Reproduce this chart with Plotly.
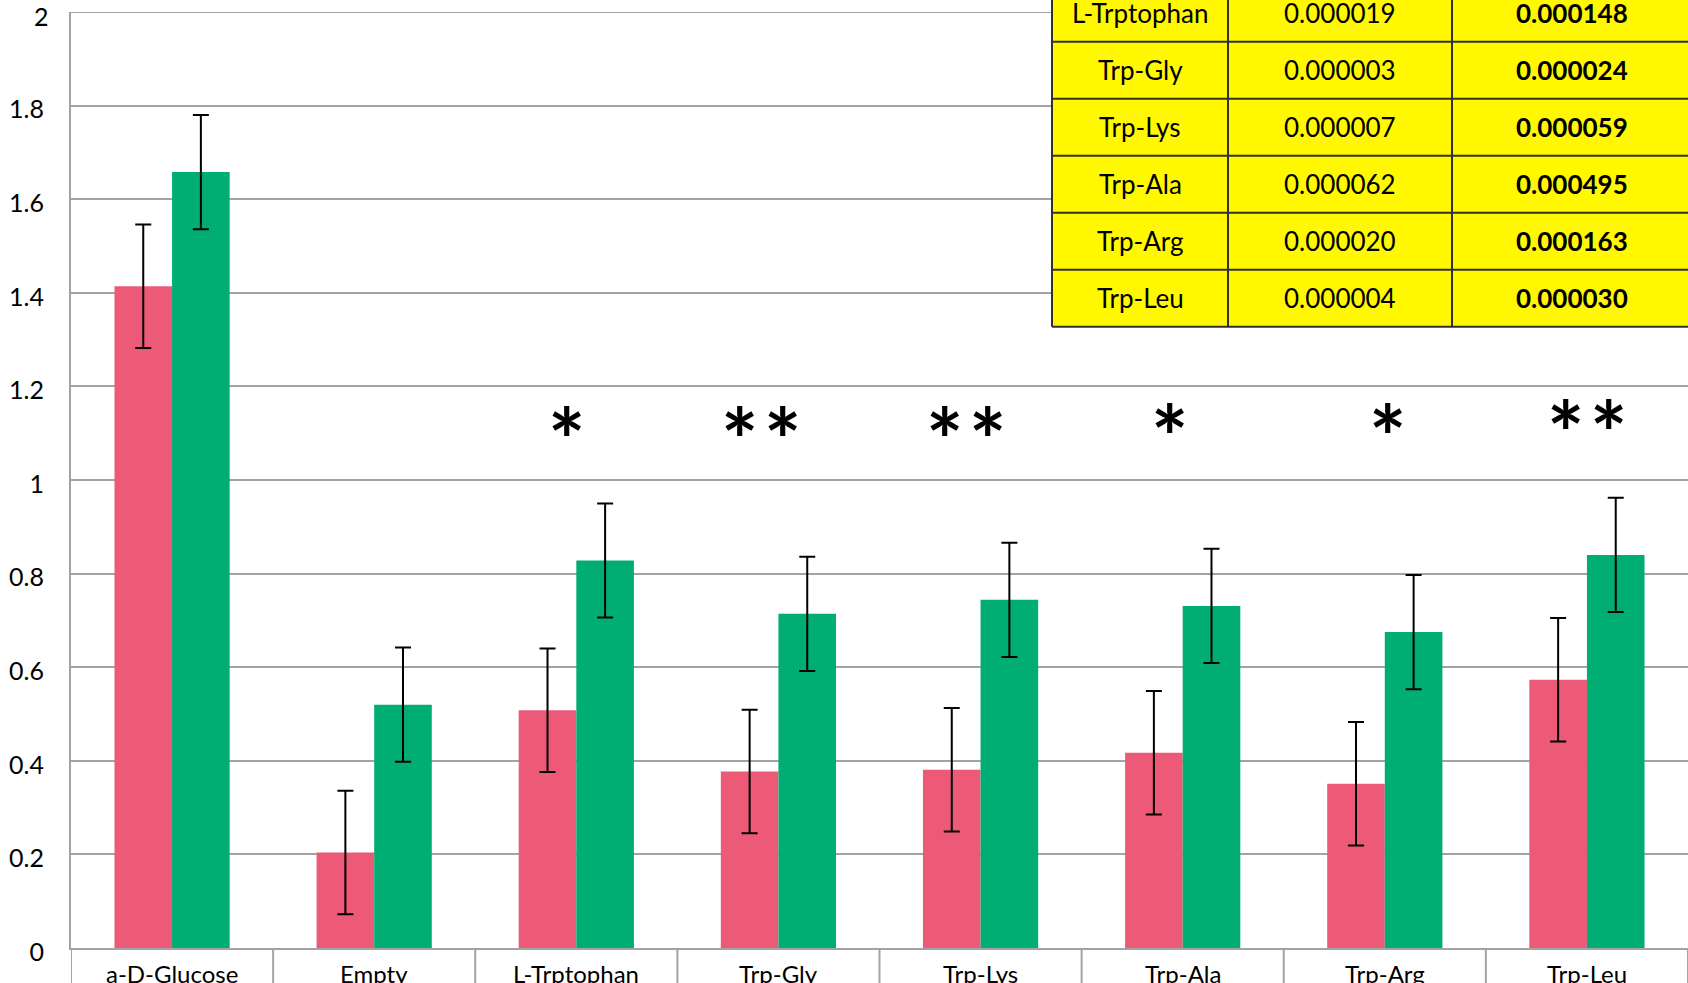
import plotly.graph_objects as go

# ---- data -------------------------------------------------------------
categories = ["a-D-Glucose", "Empty", "L-Trptophan", "Trp-Gly",
              "Trp-Lys", "Trp-Ala", "Trp-Arg", "Trp-Leu"]
series_a = [1.414, 0.204, 0.508, 0.377, 0.381, 0.417, 0.351, 0.573]
series_a_err = [0.132, 0.132, 0.132, 0.132, 0.132, 0.132, 0.132, 0.132]
series_b = [1.658, 0.520, 0.828, 0.714, 0.744, 0.731, 0.675, 0.840]
series_b_err = [0.122, 0.122, 0.122, 0.122, 0.122, 0.122, 0.122, 0.122]
significance = ["", "", "*", "**", "**", "*", "*", "**"]

y_tick_values = [0, 0.2, 0.4, 0.6, 0.8, 1.0, 1.2, 1.4, 1.6, 1.8, 2.0]
y_tick_labels = ["0", "0.2", "0.4", "0.6", "0.8", "1", "1.2", "1.4", "1.6", "1.8", "2"]

table_names = ["L-Trptophan", "Trp-Gly", "Trp-Lys", "Trp-Ala", "Trp-Arg", "Trp-Leu"]
table_p = ["0.000019", "0.000003", "0.000007", "0.000062", "0.000020", "0.000004"]
table_p_adj = ["0.000148", "0.000024", "0.000059", "0.000495", "0.000163", "0.000030"]

# ---- style / layout ---------------------------------------------------
W, H = 1688, 983
M_L, M_R, M_T, M_B = 71, 0, 12, 35
PINK = "#EC5A78"
GREEN = "#00AE73"
GRID = "#A3A3A3"
YELLOW = "#FFF800"
FONT = "Lato"
star_dx = [0, 0, -0.05, -0.085, -0.07, -0.065, 0.015, 0.0]
star_y = [0, 0, 1.088, 1.088, 1.088, 1.093, 1.093, 1.103]

plot_w = W - M_L - M_R
plot_h = H - M_T - M_B


def px_x(px):
    return (px - M_L) / plot_w


def px_y(py):
    return (H - M_B - py) / plot_h


x_idx = list(range(len(categories)))

fig = go.Figure()
fig.add_trace(go.Bar(
    x=x_idx, y=series_a, marker=dict(color=PINK, line=dict(width=0)),
    error_y=dict(type="data", array=series_a_err, visible=True,
                 color="black", thickness=2, width=8),
))
fig.add_trace(go.Bar(
    x=x_idx, y=series_b, marker=dict(color=GREEN, line=dict(width=0)),
    error_y=dict(type="data", array=series_b_err, visible=True,
                 color="black", thickness=2, width=8),
))

shapes = []
annotations = []

# top gridline at y = 2
shapes.append(dict(type="line", xref="paper", yref="y", x0=0, x1=1, y0=2, y1=2,
                   line=dict(color=GRID, width=2), layer="below"))

# category dividers below the axis
for i in range(len(categories) + 1):
    shapes.append(dict(type="line", xref="x", yref="paper",
                       x0=i - 0.5, x1=i - 0.5, y0=0, y1=-0.1,
                       line=dict(color=GRID, width=2), layer="below"))

# category labels
for i, name in enumerate(categories):
    annotations.append(dict(x=i, y=0, xref="x", yref="paper", text=name,
                            showarrow=False, yanchor="top", yshift=-9,
                            font=dict(family=FONT, size=24, color="black")))

# y = 2 tick label (end of range)
annotations.append(dict(x=0, y=2, xref="paper", yref="y", text=y_tick_labels[-1],
                        showarrow=False, xanchor="right", yanchor="middle",
                        xshift=-20, yshift=-4,
                        font=dict(family=FONT, size=25, color="black")))

# significance marks
for i, s in enumerate(significance):
    if s:
        annotations.append(dict(x=i + star_dx[i], y=star_y[i], xref="x", yref="y",
                                text="<b>" + "\u200a".join(s) + "</b>", showarrow=False,
                                font=dict(family=FONT, size=88, color="black")))

# p-value table (top right)
row_h = 57
row_bottoms = [41.7 + row_h * k for k in range(len(table_names))]
col_edges = [1052, 1228, 1452, 1692]
tbl_top = row_bottoms[0] - row_h
tbl_bot = row_bottoms[-1]
shapes.append(dict(type="rect", xref="paper", yref="paper",
                   x0=px_x(col_edges[0]), x1=px_x(col_edges[-1]),
                   y0=px_y(tbl_bot), y1=px_y(tbl_top),
                   fillcolor=YELLOW, line=dict(width=0), layer="above"))
for yb in [tbl_top] + row_bottoms:
    shapes.append(dict(type="line", xref="paper", yref="paper",
                       x0=px_x(col_edges[0]), x1=px_x(col_edges[-1]),
                       y0=px_y(yb), y1=px_y(yb),
                       line=dict(color="#303030", width=2), layer="above"))
for xe in col_edges:
    shapes.append(dict(type="line", xref="paper", yref="paper",
                       x0=px_x(xe), x1=px_x(xe),
                       y0=px_y(tbl_bot), y1=px_y(tbl_top),
                       line=dict(color="#303030", width=2), layer="above"))

for k in range(len(table_names)):
    yc = px_y(row_bottoms[k] - row_h / 2)
    cols = [table_names[k], table_p[k], "<b>" + table_p_adj[k] + "</b>"]
    for c, txt in enumerate(cols):
        xc = px_x((col_edges[c] + col_edges[c + 1]) / 2)
        annotations.append(dict(x=xc, y=yc, xref="paper", yref="paper",
                                text=txt, showarrow=False,
                                xanchor="center", yanchor="middle",
                                font=dict(family=FONT, size=26, color="black")))

fig.update_layout(
    width=W, height=H,
    margin=dict(l=M_L, r=M_R, t=M_T, b=M_B, pad=0),
    paper_bgcolor="white", plot_bgcolor="white",
    barmode="group", bargap=0.43, bargroupgap=0,
    showlegend=False,
    font=dict(family=FONT, color="black"),
    shapes=shapes, annotations=annotations,
)
fig.update_xaxes(range=[-0.5, len(categories) - 0.5], showticklabels=False,
                 showgrid=False, zeroline=False, showline=True,
                 linecolor=GRID, linewidth=2, ticks="")
fig.update_yaxes(range=[0, 2], tickvals=y_tick_values[:-1], ticktext=y_tick_labels[:-1],
                 showgrid=True, gridcolor=GRID, gridwidth=2,
                 zeroline=False, showline=True, linecolor=GRID, linewidth=2,
                 ticks="", ticklabelstandoff=20, ticklabelshift=4,
                 tickfont=dict(family=FONT, size=25, color="black"))

fig.write_html("out.html")
